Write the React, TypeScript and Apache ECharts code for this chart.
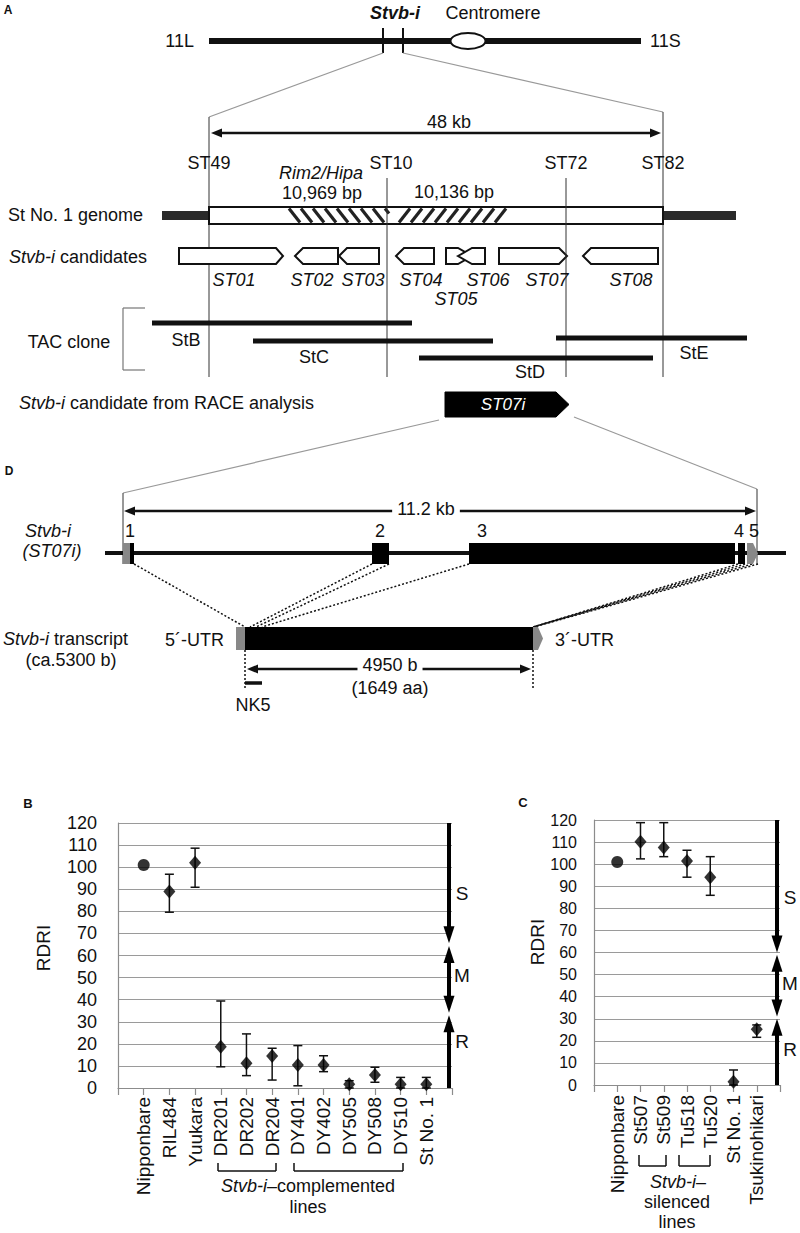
import React, { useEffect, useRef } from 'react';
import * as echarts from 'echarts';

// ---------- Data: panel B ----------
const catsB = ['', 'Nipponbare', 'RIL484', 'Yuukara', 'DR201', 'DR202', 'DR204', 'DY401', 'DY402', 'DY505', 'DY508', 'DY510', 'St No. 1', ''];
const meanB = [null, 101, 89, 102, 18.7, 11.2, 14.5, 10.4, 10.4, 1.7, 5.9, 1.7, 1.7, null];
const lowB = [null, null, 79.6, 90.9, 9.6, 5.6, 3.6, 1, 7.4, 0, 2.6, 0, 0, null];
const highB = [null, null, 96.8, 108.6, 39.4, 24.5, 18, 19.2, 14.6, 3.3, 9.4, 4.8, 4.8, null];
const markerB = ['', 'circle', 'diamond', 'diamond', 'diamond', 'diamond', 'diamond', 'diamond', 'diamond', 'diamond', 'diamond', 'diamond', 'diamond', ''];

// ---------- Data: panel C ----------
const catsC = ['', 'Nipponbare', 'St507', 'St509', 'Tu518', 'Tu520', 'St No. 1', 'Tsukinohikari', ''];
const meanC = [null, 101, 110.2, 107.6, 101.4, 94.1, 1.5, 25.2, null];
const lowC = [null, null, 102.4, 103.4, 94.1, 85.9, 0, 21.6, null];
const highC = [null, null, 118.8, 118.8, 106.3, 103.4, 6.8, 27.2, null];
const markerC = ['', 'circle', 'diamond', 'diamond', 'diamond', 'diamond', 'diamond', 'diamond', ''];

// ---------- Resistance zones (S / M / R) ----------
const zoneNames = ['S', 'M', 'R'];
const zoneFromB = [120, 64.3, 0];
const zoneToB = [65.5, 34.1, 33];
const zoneLabelB = [88, 51, 21];
const zoneFromC = [120, 59, 0];
const zoneToC = [60, 31, 30];
const zoneLabelC = [85, 46, 16];
const zoneHeadStart = [0, 1, 0];

const yMin = 0;
const yMax = 120;
const yStep = 10;

const F = "'Liberation Sans', Arial, Helvetica, sans-serif";
const INK = '#111';

function T(x: number, y: number, text: string, o: any = {}) {
  const align = o.align ?? 'center';
  const va = o.va ?? 'middle';
  const size = o.size ?? 18;
  const style: any = {
    text,
    fill: o.fill ?? INK,
    fontSize: size,
    fontFamily: F,
    fontStyle: o.italic ? 'italic' : 'normal',
    fontWeight: o.bold ? 'bold' : 'normal',
    align,
    verticalAlign: va,
    textAlign: align,
    textVerticalAlign: va,
  };
  if (o.rich) style.rich = o.rich;
  if (o.bg) {
    style.backgroundColor = o.bg;
    style.padding = o.pad ?? [0, 4];
  }
  return { type: 'text', x, y, rotation: o.rotation ?? 0, z: o.z ?? 20, silent: true, style };
}
function L(x1: number, y1: number, x2: number, y2: number, o: any = {}) {
  const style: any = { stroke: o.stroke ?? INK, lineWidth: o.w ?? 1 };
  if (o.dash) style.lineDash = o.dash;
  return { type: 'line', z: o.z ?? 10, silent: true, shape: { x1, y1, x2, y2 }, style };
}
function P(points: number[][], o: any = {}) {
  return {
    type: 'polygon', z: o.z ?? 10, silent: true, shape: { points },
    style: { fill: o.fill ?? INK, stroke: o.stroke ?? null, lineWidth: o.w ?? 0 },
  };
}
function R(x: number, y: number, w: number, h: number, o: any = {}) {
  return {
    type: 'rect', z: o.z ?? 10, silent: true, shape: { x, y, width: w, height: h },
    style: { fill: o.fill ?? INK, stroke: o.stroke ?? null, lineWidth: o.w ?? 0 },
  };
}
function hArrow(x1: number, x2: number, y: number, o: any = {}) {
  const hl = o.hl ?? 11, hw = o.hw ?? 4.5, w = o.w ?? 2.5;
  return [
    L(x1 + hl - 1, y, x2 - hl + 1, y, { w }),
    P([[x1, y], [x1 + hl, y - hw], [x1 + hl, y + hw]]),
    P([[x2, y], [x2 - hl, y - hw], [x2 - hl, y + hw]]),
  ];
}
function geneR(x0: number, xb: number, xt: number, yt: number, yb: number, o: any = {}) {
  const ym = (yt + yb) / 2;
  return P([[x0, yt], [xb, yt], [xt, ym], [xb, yb], [x0, yb]], { fill: o.fill ?? '#fff', stroke: o.stroke ?? INK, w: o.w ?? 2, z: o.z ?? 12 });
}
function geneL(xt: number, xb: number, x1: number, yt: number, yb: number, o: any = {}) {
  const ym = (yt + yb) / 2;
  return P([[xt, ym], [xb, yt], [x1, yt], [x1, yb], [xb, yb]], { fill: o.fill ?? '#fff', stroke: o.stroke ?? INK, w: o.w ?? 2, z: o.z ?? 12 });
}
function hatch(x0: number, x1: number, yt: number, yb: number, back: boolean) {
  const els: any[] = [];
  const dx = 11, sp = 12, h = yb - yt;
  for (let s = x0 - dx; s < x1; s += sp) {
    let tmin: number, tmax: number;
    if (back) {
      tmin = Math.max(0, (x0 - s) / dx);
      tmax = Math.min(1, (x1 - s) / dx);
      if (tmin < tmax) els.push(L(s + dx * tmin, yt + h * tmin, s + dx * tmax, yt + h * tmax, { w: 3.2, z: 13, stroke: '#222' }));
    } else {
      tmin = Math.max(0, (s + dx - x1) / dx);
      tmax = Math.min(1, (s + dx - x0) / dx);
      if (tmin < tmax) els.push(L(s + dx - dx * tmin, yt + h * tmin, s + dx - dx * tmax, yt + h * tmax, { w: 3.2, z: 13, stroke: '#222' }));
    }
  }
  return els;
}

const RICH = {
  i: { fontStyle: 'italic', fontSize: 18, fontFamily: F, fill: INK, color: INK },
};

function diagram(): any[] {
  const g: any[] = [];
  // ---- Panel A ----
  g.push(T(8, 10, 'A', { bold: true, size: 12 }));
  g.push(T(395, 13, 'Stvb-i', { bold: true, italic: true }));
  g.push(T(493, 13, 'Centromere'));
  g.push(L(209, 41, 641, 41, { w: 6 }));
  g.push(T(194, 41, '11L', { align: 'right' }));
  g.push(T(650, 41, '11S', { align: 'left' }));
  g.push(L(383, 28, 383, 53, { w: 2 }));
  g.push(L(403, 28, 403, 53, { w: 2 }));
  g.push({ type: 'ellipse', z: 12, silent: true, shape: { cx: 468, cy: 41, rx: 17.5, ry: 8 }, style: { fill: '#fff', stroke: INK, lineWidth: 2 } });
  g.push(L(383, 53, 209, 117, { stroke: '#999', w: 1.2 }));
  g.push(L(403, 53, 663, 112, { stroke: '#999', w: 1.2 }));
  g.push(T(449, 122, '48 kb'));
  g.push(...hArrow(211, 661, 133));
  g.push(L(209, 117, 209, 377, { stroke: '#333' }));
  g.push(L(663, 112, 663, 377, { stroke: '#333' }));
  g.push(L(387, 178, 387, 377, { stroke: '#333', z: 14 }));
  g.push(L(566, 178, 566, 377, { stroke: '#333', z: 14 }));
  g.push(T(209, 163, 'ST49'));
  g.push(T(391, 163, 'ST10'));
  g.push(T(566, 163, 'ST72'));
  g.push(T(663, 163, 'ST82'));
  g.push(T(321, 173, 'Rim2/Hipa', { italic: true }));
  g.push(T(322, 193, '10,969 bp'));
  g.push(T(454, 192, '10,136 bp'));
  // genome
  g.push(T(8, 215, 'St No. 1 genome', { align: 'left' }));
  g.push(R(162, 211, 47, 9, { fill: '#2a2a2a' }));
  g.push(R(663, 211, 73, 9, { fill: '#2a2a2a' }));
  g.push(R(209, 207, 454, 17, { fill: '#fff', stroke: INK, w: 2, z: 11 }));
  g.push(...hatch(288, 389, 208.5, 222.5, true));
  g.push(...hatch(398, 507, 208.5, 222.5, false));
  // candidates
  g.push(T(9, 257, '{i|Stvb-i} candidates', { align: 'left', rich: RICH }));
  const gy1 = 248, gy2 = 264;
  g.push(geneR(179, 276, 283, gy1, gy2));
  g.push(geneL(295, 303, 338, gy1, gy2));
  g.push(geneL(339, 347, 379, gy1, gy2));
  g.push(geneL(396, 404, 434, gy1, gy2));
  g.push(geneR(446, 458, 472, gy1, gy2));
  g.push(geneL(458, 472, 485, gy1, gy2));
  g.push(geneR(499, 559, 567, gy1, gy2));
  g.push(geneL(583, 591, 658, gy1, gy2));
  const gl = { italic: true };
  g.push(T(234, 280, 'ST01', gl));
  g.push(T(312, 280, 'ST02', gl));
  g.push(T(363, 280, 'ST03', gl));
  g.push(T(421, 280, 'ST04', gl));
  g.push(T(456, 299, 'ST05', gl));
  g.push(T(488, 280, 'ST06', gl));
  g.push(T(547, 280, 'ST07', gl));
  g.push(T(631, 280, 'ST08', gl));
  // TAC clones
  g.push(L(123, 308, 123, 370, { stroke: '#777', w: 1.2 }));
  g.push(L(123, 308, 145, 308, { stroke: '#777', w: 1.2 }));
  g.push(L(123, 370, 145, 370, { stroke: '#777', w: 1.2 }));
  g.push(T(69, 342, 'TAC clone'));
  g.push(L(152, 323, 412, 323, { w: 5, z: 15 }));
  g.push(T(186, 340, 'StB'));
  g.push(L(253, 341, 493, 341, { w: 5, z: 15 }));
  g.push(T(314, 357, 'StC'));
  g.push(L(419, 358, 653, 358, { w: 5, z: 15 }));
  g.push(T(530, 372, 'StD'));
  g.push(L(556, 338, 747, 338, { w: 5, z: 15 }));
  g.push(T(694, 353, 'StE'));
  // RACE
  g.push(T(19, 403, '{i|Stvb-i} candidate from RACE analysis', { align: 'left', rich: RICH }));
  g.push(geneR(445, 556, 569, 392, 417, { fill: '#000', stroke: '#000', w: 1 }));
  g.push(T(503, 404, 'ST07i', { italic: true, fill: '#fff', size: 17, z: 25 }));
  g.push(L(439, 420, 123, 493, { stroke: '#999', w: 1.2 }));
  g.push(L(574, 417, 757, 489, { stroke: '#999', w: 1.2 }));

  // ---- Panel D ----
  g.push(T(9, 471, 'D', { bold: true, size: 12 }));
  g.push(L(123, 493, 123, 564, { stroke: '#333' }));
  g.push(L(757, 489, 757, 564, { stroke: '#333' }));
  g.push(...hArrow(124, 756, 511));
  g.push(T(426, 509, '11.2 kb', { bg: '#fff', pad: [0, 5] }));
  g.push(T(48, 531, 'Stvb-i', { italic: true }));
  g.push(T(52, 551, '(ST07i)', { italic: true }));
  g.push(T(130, 531, '1'));
  g.push(T(380, 531, '2'));
  g.push(T(482, 531, '3'));
  g.push(T(739, 531, '4'));
  g.push(T(754, 531, '5'));
  g.push(L(105, 553, 786, 553, { w: 4 }));
  g.push(R(123, 543, 7, 21, { fill: '#888', z: 12 }));
  g.push(R(130, 543, 4, 21, { fill: '#000', z: 12 }));
  g.push(R(372, 543, 17, 21, { fill: '#000', z: 12 }));
  g.push(R(469, 543, 266, 21, { fill: '#000', z: 12 }));
  g.push(R(738, 543, 7, 21, { fill: '#000', z: 12 }));
  g.push(P([[747, 543], [753, 543], [758, 553.5], [753, 564], [747, 564]], { fill: '#888', z: 12 }));
  const dd = { dash: [2, 2], w: 1.5 };
  g.push(L(134, 564, 245, 627, dd));
  g.push(L(372, 564, 250, 627, dd));
  g.push(L(389, 564, 256, 627, dd));
  g.push(L(469, 564, 262, 627, dd));
  g.push(L(738, 564, 533, 627, dd));
  g.push(L(745, 564, 533, 627, dd));
  g.push(L(752, 564, 533, 627, dd));
  g.push(L(758, 564, 534, 627, dd));
  // transcript
  g.push(T(3, 639, '{i|Stvb-i} transcript', { align: 'left', rich: RICH }));
  g.push(T(224, 640, '5´-UTR', { align: 'right' }));
  g.push(T(555, 640, '3´-UTR', { align: 'left' }));
  g.push(T(71, 660, '(ca.5300 b)'));
  g.push(R(236, 627, 9, 23, { fill: '#888', z: 12 }));
  g.push(R(245, 627, 288, 23, { fill: '#000', z: 12 }));
  g.push(P([[533, 627], [538, 627], [543, 638.5], [538, 650], [533, 650]], { fill: '#888', z: 12 }));
  g.push(L(245, 650, 245, 690, dd));
  g.push(L(533, 650, 533, 690, dd));
  g.push(...hArrow(247, 531, 669));
  g.push(T(390, 665, '4950 b', { bg: '#fff', pad: [0, 5] }));
  g.push(T(390, 688, '(1649 aa)'));
  g.push(L(245, 683, 262, 683, { w: 3.5 }));
  g.push(T(253, 705, 'NK5'));

  // ---- Panels B and C annotations ----
  g.push(T(28, 803, 'B', { bold: true, size: 13 }));
  g.push(T(523, 802, 'C', { bold: true, size: 13 }));
  g.push(T(43, 948, 'RDRI', { rotation: Math.PI / 2, size: 19 }));
  g.push(T(537, 942, 'RDRI', { rotation: Math.PI / 2, size: 19 }));
  const br = (x1: number, x2: number, yb: number, yt: number) => [
    L(x1, yt, x1, yb, { w: 1.5 }), L(x1, yb, x2, yb, { w: 1.5 }), L(x2, yb, x2, yt, { w: 1.5 }),
  ];
  g.push(...br(218, 276, 1171, 1163));
  g.push(...br(294, 403, 1171, 1163));
  g.push(T(308, 1186, '{i|Stvb-i}–complemented', { rich: RICH }));
  g.push(T(308, 1207, 'lines'));
  g.push(...br(639, 666, 1166, 1155));
  g.push(...br(679, 710, 1166, 1155));
  g.push(T(678, 1182, '{i|Stvb-i}–', { rich: RICH }));
  g.push(T(677, 1202, 'silenced'));
  g.push(T(677, 1222, 'lines'));
  return g;
}

function scatterData(means: (number | null)[], markers: string[]) {
  const out: any[] = [];
  means.forEach((v, i) => {
    if (v == null) return;
    out.push({ value: [i, v], symbol: markers[i], symbolSize: markers[i] === 'circle' ? 12 : [12, 14] });
  });
  return out;
}
function errData(lo: (number | null)[], hi: (number | null)[]) {
  const out: any[] = [];
  lo.forEach((v, i) => {
    if (v == null || hi[i] == null) return;
    out.push([i, v, hi[i]]);
  });
  return out;
}
function zoneData(xi: number, from: number[], to: number[], lab: number[]) {
  return from.map((f, i) => [xi, f, to[i], zoneHeadStart[i], 1, lab[i]]);
}

const errRender = (params: any, api: any) => {
  const x = api.value(0), lo = api.value(1), hi = api.value(2);
  const p1 = api.coord([x, lo]);
  const p2 = api.coord([x, hi]);
  const w = 4.5;
  const st = { stroke: '#111', lineWidth: 1.5 };
  return {
    type: 'group',
    children: [
      { type: 'line', shape: { x1: p1[0], y1: p1[1], x2: p2[0], y2: p2[1] }, style: st },
      { type: 'line', shape: { x1: p1[0] - w, y1: p1[1], x2: p1[0] + w, y2: p1[1] }, style: st },
      { type: 'line', shape: { x1: p2[0] - w, y1: p2[1], x2: p2[0] + w, y2: p2[1] }, style: st },
    ],
  };
};

const zoneRender = (params: any, api: any) => {
  const xi = api.value(0), a = api.value(1), b = api.value(2), hs = api.value(3), he = api.value(4), lv = api.value(5);
  const pa = api.coord([xi, a]);
  const pb = api.coord([xi, b]);
  const x = pa[0] - 3;
  const ya = pa[1], yb = pb[1];
  const dir = yb > ya ? 1 : -1;
  const HL = 17, HW = 5.5;
  const y1 = hs ? ya + dir * (HL - 2) : ya;
  const y2 = he ? yb - dir * (HL - 2) : yb;
  const children: any[] = [
    { type: 'line', shape: { x1: x, y1, x2: x, y2 }, style: { stroke: '#000', lineWidth: 4 } },
  ];
  if (he) children.push({ type: 'polygon', shape: { points: [[x, yb], [x - HW, yb - dir * HL], [x + HW, yb - dir * HL]] }, style: { fill: '#000' } });
  if (hs) children.push({ type: 'polygon', shape: { points: [[x, ya], [x - HW, ya + dir * HL], [x + HW, ya + dir * HL]] }, style: { fill: '#000' } });
  const pl = api.coord([xi, lv]);
  children.push({
    type: 'text', x: x + 13, y: pl[1],
    style: { text: zoneNames[params.dataIndex], fill: '#111', fontSize: 19, fontFamily: F, align: 'center', verticalAlign: 'middle', textAlign: 'center', textVerticalAlign: 'middle' },
  });
  return { type: 'group', children };
};

function xAxisCfg(data: string[], gridIndex: number, margin: number) {
  return {
    type: 'category', gridIndex, data, boundaryGap: false,
    axisLine: { show: true, lineStyle: { color: '#8c8c8c', width: 1.2 } },
    axisTick: { show: true, length: 7, lineStyle: { color: '#8c8c8c', width: 1.2 } },
    axisLabel: { rotate: 90, interval: 0, fontSize: 19, color: '#111', fontFamily: F, margin },
    splitLine: { show: false },
  };
}
function yAxisCfg(gridIndex: number, fontSize: number, margin: number) {
  return {
    type: 'value', gridIndex, min: yMin, max: yMax, interval: yStep,
    axisLine: { show: true, lineStyle: { color: '#8c8c8c', width: 1.2 } },
    axisTick: { show: false },
    axisLabel: { fontSize, color: '#111', fontFamily: F, margin },
    splitLine: { show: true, lineStyle: { color: '#9a9a9a', width: 1.2 } },
  };
}

export default function App() {
  const ref = useRef<HTMLDivElement>(null);
  useEffect(() => {
    if (!ref.current) return;
    const chart = echarts.init(ref.current, undefined, { renderer: 'svg' });
    const option: any = {
      animation: false,
      backgroundColor: '#fff',
      grid: [
        { left: 118, top: 823, width: 334, height: 265 },
        { left: 594, top: 820, width: 186, height: 265 },
      ],
      xAxis: [xAxisCfg(catsB, 0, 9), xAxisCfg(catsC, 1, 10)],
      yAxis: [yAxisCfg(0, 18, 21), yAxisCfg(1, 16, 17)],
      series: [
        { type: 'custom', xAxisIndex: 0, yAxisIndex: 0, renderItem: errRender, data: errData(lowB, highB), encode: { x: 0, y: [1, 2] }, z: 3 },
        { type: 'scatter', xAxisIndex: 0, yAxisIndex: 0, data: scatterData(meanB, markerB), itemStyle: { color: '#000' }, z: 4 },
        { type: 'custom', xAxisIndex: 0, yAxisIndex: 0, renderItem: zoneRender, data: zoneData(catsB.length - 1, zoneFromB, zoneToB, zoneLabelB), encode: { x: 0, y: [1, 2] }, z: 5, clip: false },
        { type: 'custom', xAxisIndex: 1, yAxisIndex: 1, renderItem: errRender, data: errData(lowC, highC), encode: { x: 0, y: [1, 2] }, z: 3 },
        { type: 'scatter', xAxisIndex: 1, yAxisIndex: 1, data: scatterData(meanC, markerC), itemStyle: { color: '#000' }, z: 4 },
        { type: 'custom', xAxisIndex: 1, yAxisIndex: 1, renderItem: zoneRender, data: zoneData(catsC.length - 1, zoneFromC, zoneToC, zoneLabelC), encode: { x: 0, y: [1, 2] }, z: 5, clip: false },
      ],
      graphic: { elements: diagram() },
    };
    chart.setOption(option);
    return () => chart.dispose();
  }, []);
  return (
    <div
      ref={ref}
      style={{ position: 'absolute', left: 0, top: 0, width: 800, height: 1233, background: '#fff' }}
    />
  );
}
